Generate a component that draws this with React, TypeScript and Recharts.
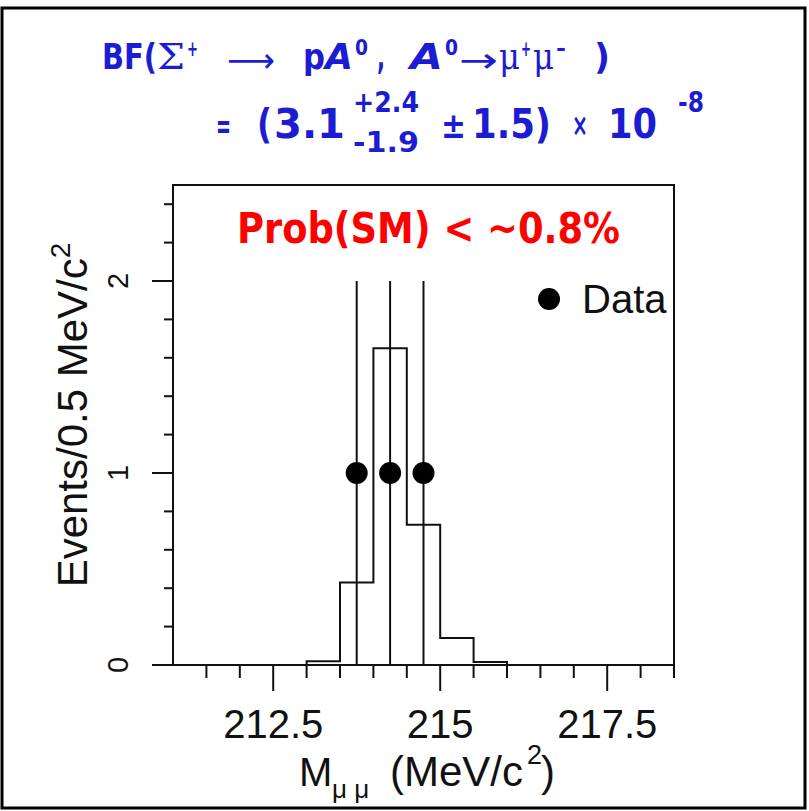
import React from "react";
import {
  ComposedChart,
  Line,
  Scatter,
  ErrorBar,
  XAxis,
  YAxis,
  ReferenceArea,
  Legend,
} from "recharts";

const W = 809;
const H = 811;
const HELV = "'Liberation Sans', Arial, Helvetica, sans-serif";
const ROUND = "'DejaVu Sans', sans-serif";
const SERIF = "'DejaVu Serif', 'Liberation Serif', serif";
const BLUE = "#1c1cd2";
const RED = "#ff0000";
const INK = "#111";

// expected signal histogram, 0.5 MeV/c^2 bins (lower edges)
const binLow = [211, 211.5, 212, 212.5, 213, 213.5, 214, 214.5, 215, 215.5, 216, 216.5, 217, 217.5, 218];
const binEvents = [0, 0, 0, 0, 0.02, 0.43, 1.65, 0.73, 0.14, 0.015, 0, 0, 0, 0, 0];
const massMax = 218.5;

// the three observed candidates
const dataMass = [213.75, 214.25, 214.75];
const dataEvents = [1, 1, 1];
const dataErr = [1, 1, 1];

const xTicks = [211.5, 212, 212.5, 213, 213.5, 214, 214.5, 215, 215.5, 216, 216.5, 217, 217.5, 218, 218.5];
const xMajor = [212.5, 215, 217.5];
const yTicks = [0, 0.2, 0.4, 0.6, 0.8, 1, 1.2, 1.4, 1.6, 1.8, 2, 2.2, 2.4];
const yMajor = [0, 1, 2];

const histData = binLow
  .map((m, i) => ({ m, h: binEvents[i] }))
  .concat([{ m: massMax, h: 0 }]);

const pointData = dataMass.map((m, i) => ({ m, n: dataEvents[i], err: dataErr[i] }));

type TickProps = { x?: number; y?: number; payload?: { value: number } };

function renderMassTick({ x = 0, y = 0, payload }: TickProps) {
  const v = payload?.value ?? 0;
  const major = xMajor.includes(v);
  return (
    <g key={`mt-${v}`}>
      <line x1={x} y1={y} x2={x} y2={y + (major ? 26 : 13)} stroke={INK} strokeWidth={2} />
      {major && (
        <text x={x} y={y + 73} textAnchor="middle" fontFamily={HELV} fontSize={40} fill={INK}>
          {v}
        </text>
      )}
    </g>
  );
}

function renderEventsTick({ x = 0, y = 0, payload }: TickProps) {
  const v = payload?.value ?? 0;
  const major = yMajor.includes(v);
  const tx = x - 45;
  return (
    <g key={`et-${v}`}>
      <line x1={x} y1={y} x2={x - (major ? 21 : 9)} y2={y} stroke={INK} strokeWidth={2} />
      {major && (
        <text
          x={tx}
          y={y}
          transform={`rotate(-90 ${tx} ${y})`}
          textAnchor="middle"
          fontFamily={HELV}
          fontSize={29}
          fill={INK}
        >
          {v}
        </text>
      )}
    </g>
  );
}

function DataLegend() {
  return (
    <svg width={160} height={44}>
      <circle cx={13} cy={19} r={11} fill="#000" />
      <text x={46} y={33} fontFamily={HELV} fontSize={40} fill={INK}>
        Data
      </text>
    </svg>
  );
}

// one stretch of the formula, squeezed to a fixed width
function Piece({
  x,
  y,
  w,
  size,
  bold = true,
  italic = false,
  family = ROUND,
  children,
}: {
  x: number;
  y: number;
  w: number;
  size: number;
  bold?: boolean;
  italic?: boolean;
  family?: string;
  children: React.ReactNode;
}) {
  return (
    <text
      x={x}
      y={y}
      fontSize={size}
      fontFamily={family}
      fontWeight={bold ? 700 : 400}
      fontStyle={italic ? "italic" : "normal"}
      fill={BLUE}
      textLength={w}
      lengthAdjust="spacingAndGlyphs"
    >
      {children}
    </text>
  );
}

function Annotations() {
  return (
    <svg
      width={W}
      height={H}
      style={{ position: "absolute", left: 0, top: 0, pointerEvents: "none" }}
    >
      <rect x={2} y={8} width={803} height={800} fill="none" stroke="#000" strokeWidth={3} />

      {/* BF(Σ+ -> pA0, A0 -> μ+μ-) */}
      <Piece x={102} y={69} w={55} size={36}>BF(</Piece>
      <Piece x={157} y={69} w={28} size={36} bold={false} family={SERIF}>Σ</Piece>
      <Piece x={187} y={56} w={11} size={22}>+</Piece>
      <Piece x={227} y={72} w={48} size={34} bold={false}>⟶</Piece>
      <Piece x={303} y={69} w={22} size={36}>p</Piece>
      <Piece x={325} y={69} w={28} size={36} italic>A</Piece>
      <Piece x={355} y={55} w={13} size={22}>0</Piece>
      <Piece x={377} y={69} w={8} size={36}>,</Piece>
      <Piece x={410} y={69} w={33} size={36} italic>A</Piece>
      <Piece x={445} y={55} w={13} size={22}>0</Piece>
      <Piece x={459} y={72} w={39} size={34} bold={false}>→</Piece>
      <Piece x={499} y={69} w={21} size={38} bold={false} family={SERIF}>μ</Piece>
      <Piece x={521} y={56} w={10} size={22}>+</Piece>
      <Piece x={533} y={69} w={21} size={38} bold={false} family={SERIF}>μ</Piece>
      <Piece x={556} y={56} w={10} size={22}>-</Piece>
      <Piece x={594} y={69} w={16} size={36}>)</Piece>

      {/* = (3.1 +2.4 -1.9 ±1.5) × 10^-8 */}
      <Piece x={216} y={138} w={15} size={36}>=</Piece>
      <Piece x={257} y={138} w={15} size={40}>(</Piece>
      <Piece x={274} y={138} w={71} size={40}>3.1</Piece>
      <Piece x={353} y={112} w={66} size={28}>+2.4</Piece>
      <Piece x={353} y={152} w={66} size={28}>-1.9</Piece>
      <Piece x={441} y={138} w={25} size={36}>±</Piece>
      <Piece x={472} y={138} w={79} size={40}>1.5)</Piece>
      <Piece x={572} y={136} w={16} size={32}>×</Piece>
      <Piece x={608} y={138} w={49} size={40}>10</Piece>
      <Piece x={678} y={112} w={26} size={28}>-8</Piece>

      <text
        x={237}
        y={243}
        fontFamily={ROUND}
        fontWeight={700}
        fontSize={42}
        fill={RED}
        textLength={383}
        lengthAdjust="spacingAndGlyphs"
      >
        Prob(SM) &lt; ~0.8%
      </text>

      <text
        x={87}
        y={415}
        transform="rotate(-90 87 415)"
        textAnchor="middle"
        fontFamily={HELV}
        fontSize={42}
        fill={INK}
      >
        Events/0.5 MeV/c
        <tspan fontSize={28} dy={-17}>
          2
        </tspan>
      </text>

      <text y={786} fontFamily={HELV} fontSize={40} fill={INK}>
        <tspan x={299}>M</tspan>
        <tspan x={332} dy={12} fontSize={26}>
          μ μ
        </tspan>
        <tspan x={390} dy={-12} fontSize={42}>
          (MeV/c
        </tspan>
        <tspan x={527} dy={-22} fontSize={27}>
          2
        </tspan>
        <tspan x={541} dy={22} fontSize={42}>
          )
        </tspan>
      </text>
    </svg>
  );
}

export default function App() {
  return (
    <div
      style={{
        position: "absolute",
        left: 0,
        top: 0,
        width: W,
        height: H,
        background: "#fff",
      }}
    >
      <ComposedChart
        width={W}
        height={H}
        margin={{ top: 185, right: 135, bottom: 145, left: 172 }}
      >
        <XAxis
          dataKey="m"
          type="number"
          domain={[211, massMax]}
          ticks={xTicks}
          interval={0}
          height={1}
          tickSize={0}
          tickMargin={0}
          tickLine={false}
          axisLine={{ stroke: INK, strokeWidth: 2 }}
          tick={renderMassTick}
          allowDataOverflow
        />
        <YAxis
          type="number"
          domain={[0, 2.5]}
          ticks={yTicks}
          interval={0}
          width={1}
          tickSize={0}
          tickMargin={0}
          tickLine={false}
          axisLine={{ stroke: INK, strokeWidth: 2 }}
          tick={renderEventsTick}
          allowDataOverflow
        />
        <ReferenceArea
          x1={211}
          x2={massMax}
          y1={0}
          y2={2.5}
          fill="none"
          fillOpacity={0}
          stroke={INK}
          strokeWidth={2}
        />
        <Line
          data={histData}
          dataKey="h"
          type="stepAfter"
          stroke={INK}
          strokeWidth={2}
          dot={false}
          legendType="none"
          isAnimationActive={false}
        />
        <Scatter
          name="Data"
          data={pointData}
          dataKey="n"
          fill="#000"
          isAnimationActive={false}
          shape={(p: { cx?: number; cy?: number }) => (
            <circle cx={p.cx} cy={p.cy} r={11} fill="#000" />
          )}
        >
          <ErrorBar dataKey="err" direction="y" width={0} stroke={INK} strokeWidth={2} />
        </Scatter>
        <Legend
          layout="horizontal"
          verticalAlign="middle"
          align="center"
          content={<DataLegend />}
          wrapperStyle={{ left: 536, top: 280, width: 160, height: 44 }}
        />
      </ComposedChart>
      <Annotations />
    </div>
  );
}
